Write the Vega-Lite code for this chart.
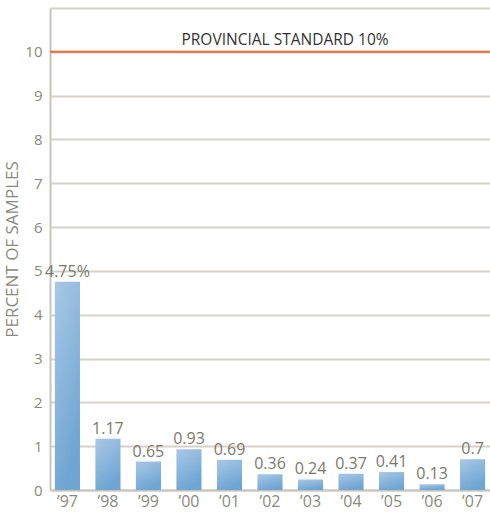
{
  "$schema": "https://vega.github.io/schema/vega-lite/v6.json",
  "autosize": {"type": "none"},
  "padding": {"left": 50, "top": 8, "right": 0, "bottom": 24},
  "width": 440,
  "height": 482,
  "background": "white",
  "config": {
    "view": {"stroke": null},
    "font": "Open Sans"
  },
  "data": {
    "values": [
      {"year": "’97", "pct": 4.75, "label": "4.75%"},
      {"year": "’98", "pct": 1.17, "label": "1.17"},
      {"year": "’99", "pct": 0.65, "label": "0.65"},
      {"year": "’00", "pct": 0.93, "label": "0.93"},
      {"year": "’01", "pct": 0.69, "label": "0.69"},
      {"year": "’02", "pct": 0.36, "label": "0.36"},
      {"year": "’03", "pct": 0.24, "label": "0.24"},
      {"year": "’04", "pct": 0.37, "label": "0.37"},
      {"year": "’05", "pct": 0.41, "label": "0.41"},
      {"year": "’06", "pct": 0.13, "label": "0.13"},
      {"year": "’07", "pct": 0.7, "label": "0.7"}
    ]
  },
  "layer": [
    {
      "mark": {
        "type": "bar",
        "color": {
          "gradient": "linear",
          "x1": 0, "y1": 0, "x2": 0.4, "y2": 1,
          "stops": [
            {"offset": 0, "color": "#a9c8e5"},
            {"offset": 1, "color": "#6ea5d3"}
          ]
        }
      },
      "encoding": {
        "x": {
          "field": "year", "type": "nominal", "sort": null,
          "scale": {"paddingInner": 0.38, "paddingOuter": 0.12},
          "axis": {
            "title": null, "labelAngle": 0, "labelFontSize": 16, "labelColor": "#8a8a7c",
            "domainColor": "#c9c5bd", "domainWidth": 2, "ticks": false, "labelPadding": 3
          }
        },
        "y": {
          "field": "pct", "type": "quantitative",
          "scale": {"domain": [0, 11], "nice": false},
          "axis": {
            "values": [0,1,2,3,4,5,6,7,8,9,10,11],
            "labelExpr": "datum.value == 11 ? '' : datum.label",
            "title": "PERCENT OF SAMPLES", "titleFontSize": 17, "titleFontWeight": "normal",
            "titleColor": "#8a8a7c", "titlePadding": 3,
            "labelFontSize": 15, "labelColor": "#8a8a7c", "labelPadding": 8,
            "ticks": false, "domainColor": "#c9c5bd", "domainWidth": 2,
            "gridColor": "#d6d2ca", "gridWidth": 2
          }
        }
      }
    },
    {
      "mark": {"type": "text", "dy": -10, "fontSize": 16, "color": "#7a7a6c"},
      "encoding": {
        "x": {"field": "year", "type": "nominal", "sort": null},
        "y": {"field": "pct", "type": "quantitative"},
        "text": {"field": "label"}
      }
    },
    {
      "data": {"values": [{"v": 10, "t": "PROVINCIAL STANDARD 10%"}]},
      "layer": [
        {
          "mark": {"type": "rule", "color": "#f26a2e", "strokeWidth": 2},
          "encoding": {"y": {"field": "v", "type": "quantitative"}}
        },
        {
          "mark": {"type": "text", "dy": -12, "fontSize": 15.5, "color": "#333333"},
          "encoding": {
            "y": {"field": "v", "type": "quantitative"},
            "x": {"value": 235},
            "text": {"field": "t"}
          }
        }
      ]
    }
  ]
}
